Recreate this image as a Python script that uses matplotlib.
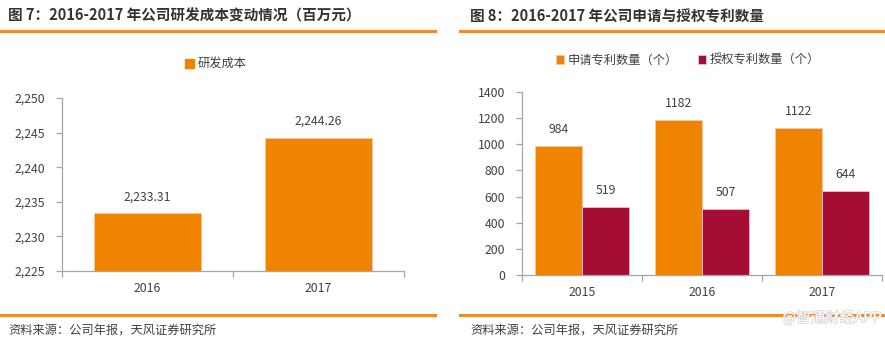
import numpy as np
import matplotlib
matplotlib.use('Agg')
import matplotlib.pyplot as plt
import matplotlib.patheffects as pe
from matplotlib.ticker import FuncFormatter, FixedLocator

plt.rcParams['font.family'] = ['Noto Sans CJK SC', 'DejaVu Sans']

# 研发成本（百万元）
rd_years = ['2016', '2017']
rd_cost = [2233.31, 2244.26]
rd_labels = ['2,233.31', '2,244.26']

# 专利数量（个）
pat_years = ['2015', '2016', '2017']
pat_apply = [984, 1182, 1122]
pat_grant = [519, 507, 644]

ORANGE = '#F08300'
CRIMSON = '#A50D35'
RULE = '#F08A2C'
TXT = '#404040'
AXC = '#A6A6A6'

W, H = 885, 339
fig = plt.figure(figsize=(W / 100, H / 100), dpi=100)


def px_axes(x0, y0, x1, y1):
    return fig.add_axes([x0 / W, 1 - y1 / H, (x1 - x0) / W, (y1 - y0) / H])


def style(ax):
    for s in ['top', 'right']:
        ax.spines[s].set_visible(False)
    for s in ['left', 'bottom']:
        ax.spines[s].set_color(AXC)
        ax.spines[s].set_linewidth(0.9)
    ax.tick_params(axis='y', colors=AXC, labelcolor=TXT, labelsize=8.8, length=4, width=0.9, pad=8)
    ax.tick_params(axis='x', which='major', length=0, labelcolor=TXT, labelsize=8.8, pad=8)
    ax.tick_params(axis='x', which='minor', colors=AXC, length=4, width=0.9, direction='out')


# 标题、分隔线与资料来源
fig.text(8 / W, 1 - 16 / H, '图 7：2016-2017 年公司研发成本变动情况（百万元）',
         fontsize=10.5, fontweight='bold', color='#333333', va='center')
fig.text(470 / W, 1 - 16 / H, '图 8：2016-2017 年公司申请与授权专利数量',
         fontsize=10.5, fontweight='bold', color='#333333', va='center')
for x0, x1 in [(0, 435), (460, 885)]:
    for y in [31, 315]:
        fig.add_artist(plt.Line2D([x0 / W, x1 / W], [1 - y / H, 1 - y / H],
                                  color=RULE, lw=2.2, transform=fig.transFigure))
fig.text(8 / W, 1 - 330 / H, '资料来源：公司年报，天风证券研究所', fontsize=8.8, color=TXT, va='center')
fig.text(470 / W, 1 - 330 / H, '资料来源：公司年报，天风证券研究所', fontsize=8.8, color=TXT, va='center')
fig.text(882 / W, 1 - 318 / H, '@智通财经APP', fontsize=10.5, color='white', ha='right', va='center',
         path_effects=[pe.withStroke(linewidth=0.8, foreground='#CFCFCF')])

# 图7：研发成本
ax1 = px_axes(62, 98, 404, 271)
x1 = np.arange(len(rd_years))
ax1.bar(x1, [v - 2225 for v in rd_cost], bottom=2225, width=0.62, color=ORANGE,
        edgecolor='#F8C8A0', linewidth=0.6)
ax1.set_xlim(-0.5, len(rd_years) - 0.5)
ax1.set_ylim(2225, 2250)
ax1.set_yticks(np.arange(2225, 2251, 5))
ax1.yaxis.set_major_formatter(FuncFormatter(lambda v, p: f'{v:,.0f}'))
ax1.set_xticks(x1)
ax1.set_xticklabels(rd_years)
ax1.xaxis.set_minor_locator(FixedLocator(np.arange(-0.5, len(rd_years), 1.0)))
style(ax1)
for xi, v, lab in zip(x1, rd_cost, rd_labels):
    ax1.annotate(lab, (xi, v), xytext=(0, 12), textcoords='offset points',
                 ha='center', va='center', fontsize=8.8, color=TXT)
fig.legend(handles=[plt.Rectangle((0, 0), 1, 1, color=ORANGE)], labels=['研发成本'],
           loc='center', bbox_to_anchor=(216 / W, 1 - 64 / H), frameon=False, fontsize=8.8,
           handlelength=0.7, handleheight=0.7, handletextpad=0.3, labelcolor=TXT)

# 图8：专利数量
ax2 = px_axes(522, 92, 882, 275)
x2 = np.arange(len(pat_years))
bw = 0.39
b1 = ax2.bar(x2 - bw / 2, pat_apply, width=bw, color=ORANGE, edgecolor='#F8C8A0', linewidth=0.6)
b2 = ax2.bar(x2 + bw / 2, pat_grant, width=bw, color=CRIMSON, edgecolor='#F0C0C8', linewidth=0.6)
ax2.set_xlim(-0.5, len(pat_years) - 0.5)
ax2.set_ylim(0, 1400)
ax2.set_yticks(np.arange(0, 1401, 200))
ax2.set_xticks(x2)
ax2.set_xticklabels(pat_years)
ax2.xaxis.set_minor_locator(FixedLocator(np.arange(-0.5, len(pat_years), 1.0)))
style(ax2)
for xi, v in zip(x2 - bw / 2, pat_apply):
    ax2.annotate(str(v), (xi, v), xytext=(0, 12), textcoords='offset points',
                 ha='center', va='center', fontsize=8.8, color=TXT)
for xi, v in zip(x2 + bw / 2, pat_grant):
    ax2.annotate(str(v), (xi, v), xytext=(0, 12), textcoords='offset points',
                 ha='center', va='center', fontsize=8.8, color=TXT)
fig.legend(handles=[b1, b2], labels=['申请专利数量（个）', '授权专利数量（个）'],
           loc='center', bbox_to_anchor=(688 / W, 1 - 60 / H), frameon=False, fontsize=8.8, ncol=2,
           handlelength=0.7, handleheight=0.7, handletextpad=0.3, columnspacing=1.6, labelcolor=TXT)

fig.savefig('out.png', dpi=100, facecolor='white')
